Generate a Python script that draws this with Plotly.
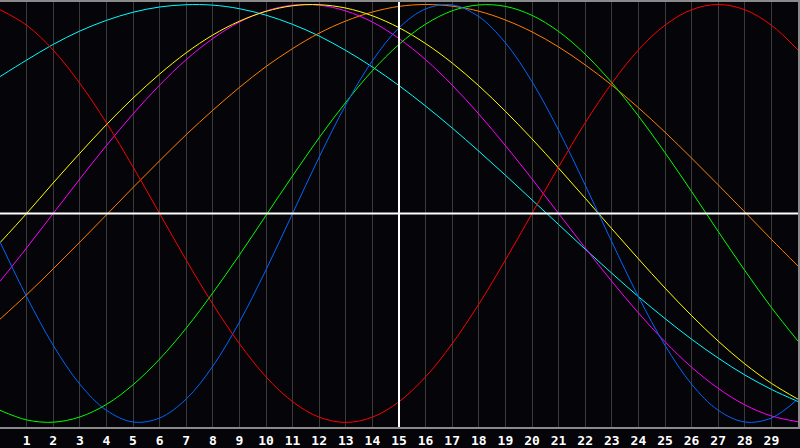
import plotly.graph_objects as go

days = list(range(0, 31))
tick_days = list(range(1, 30))
tick_labels = [str(d) for d in tick_days]

red = [0.975, 0.901, 0.782, 0.623, 0.434, 0.223, 0.0, -0.223, -0.434, -0.623, -0.782,
       -0.901, -0.975, -1.0, -0.975, -0.901, -0.782, -0.623, -0.434, -0.223, 0.0,
       0.223, 0.434, 0.623, 0.782, 0.901, 0.975, 1.0, 0.975, 0.901, 0.782]
blue = [-0.136, -0.398, -0.631, -0.817, -0.942, -0.998, -0.979, -0.888, -0.731, -0.520, -0.270,
        0.0, 0.270, 0.520, 0.731, 0.888, 0.979, 0.998, 0.942, 0.817, 0.631,
        0.398, 0.136, -0.136, -0.398, -0.631, -0.817, -0.942, -0.998, -0.979, -0.888]
green = [-0.942, -0.988, -0.999, -0.974, -0.914, -0.820, -0.697, -0.549, -0.380, -0.199, -0.009,
         0.180, 0.363, 0.532, 0.683, 0.809, 0.906, 0.970, 0.998, 0.991, 0.948,
         0.871, 0.762, 0.626, 0.467, 0.291, 0.105, -0.086, -0.273, -0.450, -0.611]
orange = [-0.506, -0.389, -0.265, -0.137, -0.007, 0.124, 0.252, 0.377, 0.494, 0.603, 0.703,
          0.789, 0.863, 0.921, 0.964, 0.991, 1.0, 0.992, 0.968, 0.926, 0.869,
          0.797, 0.711, 0.614, 0.506, 0.389, 0.265, 0.137, 0.007, -0.124, -0.252]
yellow = [-0.140, 0.0, 0.146, 0.288, 0.425, 0.552, 0.667, 0.769, 0.854, 0.920, 0.967,
          0.994, 0.999, 0.983, 0.946, 0.889, 0.813, 0.720, 0.611, 0.489, 0.357,
          0.217, 0.073, -0.073, -0.217, -0.357, -0.489, -0.611, -0.720, -0.813, -0.889]
magenta = [-0.325, -0.165, 0.0, 0.165, 0.325, 0.476, 0.614, 0.736, 0.837, 0.916, 0.969,
           0.997, 0.997, 0.969, 0.916, 0.837, 0.736, 0.614, 0.476, 0.325, 0.165,
           0.0, -0.165, -0.325, -0.476, -0.614, -0.736, -0.837, -0.916, -0.969, -0.997]
cyan = [0.655, 0.734, 0.809, 0.873, 0.924, 0.963, 0.988, 0.999, 0.997, 0.980, 0.949,
        0.905, 0.849, 0.780, 0.701, 0.612, 0.514, 0.409, 0.298, 0.183, 0.065,
        -0.053, -0.171, -0.286, -0.398, -0.503, -0.602, -0.692, -0.773, -0.842, -0.900]

series = [
    ("cyan", cyan, "#00ffff"),
    ("orange", orange, "#ff8000"),
    ("magenta", magenta, "#ff00ff"),
    ("yellow", yellow, "#ffff00"),
    ("green", green, "#00ff00"),
    ("blue", blue, "#0066ff"),
    ("red", red, "#ff0000"),
]

fig = go.Figure()
for name, vals, col in series:
    fig.add_trace(go.Scatter(x=days, y=vals, mode="lines", name=name,
                             line=dict(color=col, width=1, shape="spline", smoothing=1.0),
                             hoverinfo="skip"))

fig.add_shape(type="line", xref="x", yref="paper", x0=15, x1=15, y0=0, y1=1,
              line=dict(color="#ffffff", width=2), layer="above")
fig.add_shape(type="line", xref="paper", yref="y", x0=0, x1=1, y0=0, y1=0,
              line=dict(color="#ffffff", width=2), layer="above")

fig.update_layout(
    width=800, height=448,
    margin=dict(l=0, r=0, t=0, b=20, pad=0),
    paper_bgcolor="#050408",
    plot_bgcolor="#050408",
    showlegend=False,
    xaxis=dict(range=[0, 30], tickvals=tick_days, ticktext=tick_labels,
               showgrid=True, gridcolor="#3a3a3a", gridwidth=1,
               zeroline=False, showline=True, linecolor="#8a8a8a", linewidth=2, mirror=True,
               ticks="", ticklen=0,
               tickfont=dict(family="DejaVu Sans Mono", size=13, color="#ffffff", weight="bold"),
               fixedrange=True),
    yaxis=dict(range=[-1.022, 1.012], showgrid=False, zeroline=False, showticklabels=False,
               showline=True, linecolor="#8a8a8a", linewidth=2, mirror=True, ticks="",
               fixedrange=True),
)

fig.write_html("out.html", config={"displayModeBar": False},
               post_script="document.body.style.margin='0';document.body.style.background='#050408';")
